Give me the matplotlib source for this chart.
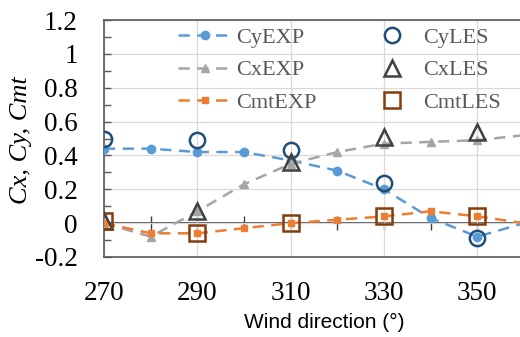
import matplotlib
matplotlib.use("Agg")
import matplotlib.pyplot as plt
from matplotlib.ticker import MultipleLocator, FixedLocator, FuncFormatter

# data
wd_exp = [270, 280, 290, 300, 310, 320, 330, 340, 350, 360]
cy_exp = [0.44, 0.44, 0.42, 0.42, 0.37, 0.31, 0.20, 0.03, -0.08, 0.0]
cx_exp = [0.0, -0.08, 0.07, 0.23, 0.35, 0.42, 0.47, 0.48, 0.49, 0.52]
cmt_exp = [0.0, -0.06, -0.06, -0.03, 0.0, 0.02, 0.04, 0.07, 0.04, 0.0]

wd_les = [270, 290, 310, 330, 350]
cy_les = [0.50, 0.49, 0.43, 0.24, -0.09]
cx_les = [0.01, 0.07, 0.36, 0.51, 0.54]
cmt_les = [0.01, -0.06, 0.0, 0.04, 0.04]

xtick_vals = [270, 290, 310, 330, 350]

serif = 'Liberation Serif'
sans = 'Liberation Sans'
plt.rcParams['axes.unicode_minus'] = False
plt.rcParams['font.family'] = serif

fig = plt.figure(figsize=(5.2, 3.37), dpi=100)
ax = fig.add_axes([104/520, 1-257/337, 420/520, 237/337])

dash = (0, (4.5, 3))
lw = 1.8
c_blue = '#5B9BD5'
c_gray = '#A5A5A5'
c_orng = '#ED7D31'

ax.plot(wd_exp, cy_exp, linestyle=dash, color=c_blue, lw=lw, marker='o', ms=6, label='CyEXP', zorder=3)
ax.plot(wd_exp, cx_exp, linestyle=dash, color=c_gray, lw=lw, marker='^', ms=6, label='CxEXP', zorder=3)
ax.plot(wd_exp, cmt_exp, linestyle=dash, color=c_orng, lw=lw, marker='s', ms=5, label='CmtEXP', zorder=3)
ax.plot(wd_les, cy_les, linestyle='none', marker='o', ms=11, mfc='none', mec='#1F4E79', mew=1.8, label='CyLES', zorder=4)
ax.plot(wd_les, cx_les, linestyle='none', marker='^', ms=11, mfc='none', mec='#404040', mew=1.8, label='CxLES', zorder=4)
ax.plot(wd_les, cmt_les, linestyle='none', marker='s', ms=11, mfc='none', mec='#843C0C', mew=1.8, label='CmtLES', zorder=4)

ax.set_xlim(270, 360)
ax.set_ylim(-0.2, 1.2)
ax.xaxis.set_major_locator(FixedLocator(xtick_vals))
ax.yaxis.set_major_locator(MultipleLocator(0.2))
ax.yaxis.set_minor_locator(MultipleLocator(0.1))
ax.yaxis.set_major_formatter(FuncFormatter(lambda v, p: '{:g}'.format(round(v, 2))))
ax.grid(True, color='#D9D9D9', lw=0.9)
ax.set_axisbelow(True)

for s in ['left', 'bottom', 'top']:
    ax.spines[s].set_color('#595959')
    ax.spines[s].set_linewidth(1.2)
ax.spines['right'].set_visible(False)

ax.tick_params(axis='x', length=0, pad=17, labelsize=19.5, labelcolor='black')
ax.tick_params(axis='y', which='both', direction='in', length=5, width=1, color='#595959',
               pad=19, labelsize=19.5)

# zero line with its own tick marks
ax2 = ax.twiny()
ax2.set_xlim(270, 360)
ax2.spines['top'].set_visible(False)
ax2.spines['right'].set_visible(False)
ax2.spines['left'].set_visible(False)
ax2.spines['bottom'].set_position(('data', 0))
ax2.spines['bottom'].set_color('#404040')
ax2.spines['bottom'].set_linewidth(1.2)
ax2.xaxis.set_ticks_position('bottom')
ax2.xaxis.set_major_locator(MultipleLocator(10))
ax2.tick_params(axis='x', direction='inout', length=10, width=1, color='#404040', labelbottom=False)
ax2.set_zorder(ax.get_zorder() - 1)
ax.patch.set_visible(False)

ax.set_ylabel('Cx, Cy, Cmt', fontsize=19, fontstyle='italic')
ax.yaxis.set_label_coords(-0.197, 0.495)
ax.yaxis.label.set_va('center')
ax.set_xlabel('Wind direction (°)', fontsize=15, fontfamily=sans)
ax.xaxis.set_label_coords(0.524, -0.235)

leg = ax.legend(ncol=2, frameon=False, loc='upper left', bbox_to_anchor=(178/520, 1-27/337),
                bbox_transform=fig.transFigure, borderaxespad=0, borderpad=0,
                prop={'family': serif, 'size': 16}, handlelength=2.4, handletextpad=0.2,
                columnspacing=2.2, labelspacing=0.55)
for t in leg.get_texts():
    t.set_color('#595959')

fig.savefig('out.png', dpi=100)
